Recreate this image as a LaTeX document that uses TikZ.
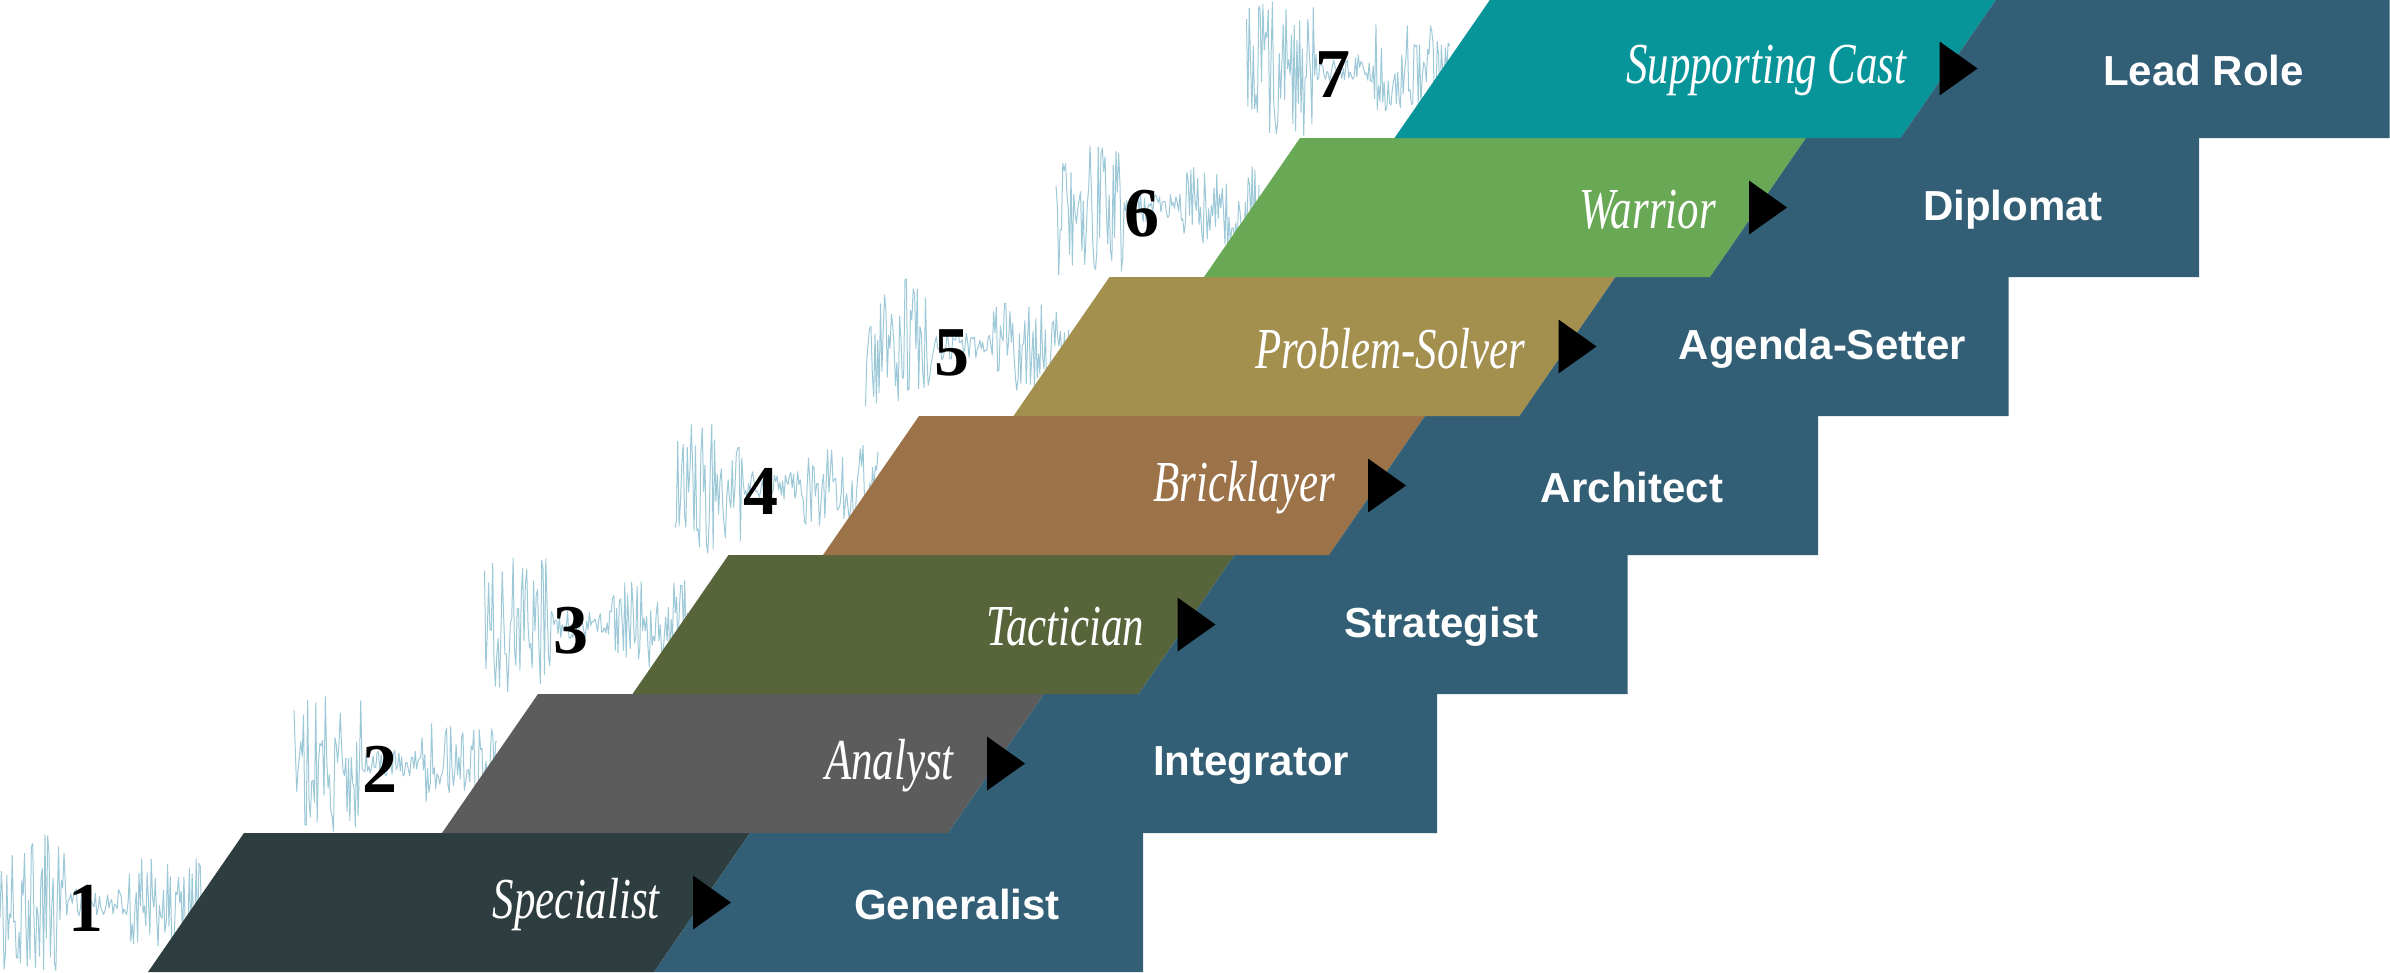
\documentclass[tikz,border=0pt]{standalone}
\usepackage{fontspec}
\setmainfont{Liberation Serif}
\newfontfamily\labsans{Liberation Sans}
\definecolor{rowblue}{HTML}{325F75}
\definecolor{wave}{HTML}{9CC8D8}
\definecolor{cA}{HTML}{2E3E40}
\definecolor{cB}{HTML}{5B5C5B}
\definecolor{cC}{HTML}{58643A}
\definecolor{cD}{HTML}{9C7248}
\definecolor{cE}{HTML}{A38F4E}
\definecolor{cF}{HTML}{69A955}
\definecolor{cG}{HTML}{08959A}
\tikzset{
  role/.style={text=white,font=\fontsize{58}{62}\selectfont\itshape,anchor=east,inner sep=0pt,xscale=0.74},
  goal/.style={text=white,font=\labsans\bfseries\fontsize{42}{46}\selectfont,inner sep=0pt},
  num/.style={text=black,font=\bfseries\fontsize{70}{74}\selectfont,inner sep=0pt},
  wavy/.style={wave,line width=1pt,line join=round},
  tip/.style={fill=black}
}
\begin{document}
\begin{tikzpicture}[x=1pt,y=-1pt]
\useasboundingbox (0,0) rectangle (2390,972);
\pgfmathsetseed{7}
\foreach \k/\L/\col/\a/\b in {
  1/148/cA/Specialist/Generalist,
  2/442/cB/Analyst/Integrator,
  3/632.5/cC/Tactician/Strategist,
  4/823/cD/Bricklayer/Architect,
  5/1013.5/cE/Problem-Solver/Agenda-Setter,
  6/1204/cF/Warrior/Diplomat,
  7/1394.5/cG/Supporting Cast/Lead Role}{
  \pgfmathsetmacro{\yb}{972-139*(\k-1)}
  \pgfmathsetmacro{\yt}{\yb-139}
  \pgfmathsetmacro{\yc}{\yb-69.5}
  \pgfmathsetmacro{\R}{min(\L+995,2390)}
  \draw[wavy] plot[domain={\L-148}:{\L+55},samples=150]
    (\x,{\yc+(14+54*(\x<\L-80)+30*(\x>\L-20))*rand});
  \fill[\col] (\L,\yb) -- (\L+96,\yt) -- (\L+602,\yt) -- (\L+506,\yb) -- cycle;
  \fill[rowblue] (\L+506,\yb) -- (\L+602,\yt) -- (\R,\yt) -- (\R,\yb) -- cycle;
  \node[num] (n\k) at (\L-62,\yc+6) {\k};
  \node[role] (r\k) at (\L+512,\yc+2) {\a};
  \node[goal] (g\k) at (\L+809,\yc+2) {\b};
  \fill[tip] (\L+545,\yc-27) -- (\L+583,\yc) -- (\L+545,\yc+27) -- cycle;
}
\end{tikzpicture}
\end{document}
